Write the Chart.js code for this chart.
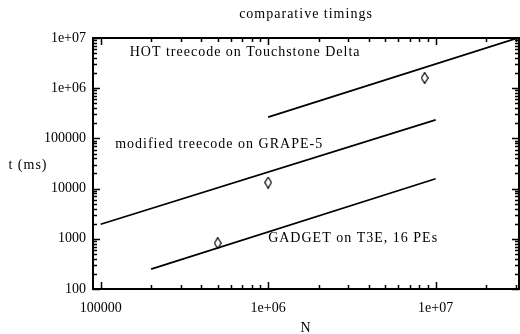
<!DOCTYPE html>
<html>
<head>
<meta charset="utf-8">
<script src="https://cdn.jsdelivr.net/npm/chart.js@4"></script>
<style>
  html, body { margin: 0; padding: 0; background: #fff; }
  #wrap { width: 520px; height: 334px; }
</style>
</head>
<body>
<div id="wrap"><canvas id="timings"></canvas></div>
<script>
// comparative timings, log-log

const hotN = [1e6, 3e7];
const hotT = [2.65e5, 9.7e6];

const grapeN = [1e5, 1e7];
const grapeT = [1950, 2.35e5];

const gadgetN = [2e5, 1e7];
const gadgetT = [250, 1.57e4];

const measuredN = [5e5, 1e6, 8.6e6];
const measuredT = [820, 1.32e4, 1.6e6];

const xTicks = [1e5, 2e5, 3e5, 4e5, 5e5, 6e5, 7e5, 8e5, 9e5,
    1e6, 2e6, 3e6, 4e6, 5e6, 6e6, 7e6, 8e6, 9e6, 1e7, 2e7, 3e7];
const xTickLabels = { 1e5: '100000', 1e6: '1e+06', 1e7: '1e+07' };

const yTicks = [100, 200, 300, 400, 500, 600, 700, 800, 900,
    1e3, 2e3, 3e3, 4e3, 5e3, 6e3, 7e3, 8e3, 9e3,
    1e4, 2e4, 3e4, 4e4, 5e4, 6e4, 7e4, 8e4, 9e4,
    1e5, 2e5, 3e5, 4e5, 5e5, 6e5, 7e5, 8e5, 9e5,
    1e6, 2e6, 3e6, 4e6, 5e6, 6e6, 7e6, 8e6, 9e6, 1e7];
const yTickLabels = { 100: '100', 1000: '1000', 10000: '10000', 100000: '100000', 1000000: '1e+06', 10000000: '1e+07' };

const chartTitle = 'comparative timings';
const xTitle = 'N';
const yTitle = 't (ms)';

// curve labels, anchored in data coordinates (left edge, vertical middle)
const curveLabels = ['HOT treecode on Touchstone Delta', 'modified treecode on GRAPE-5', 'GADGET on T3E, 16 PEs'];
const curveLabelN = [1.49e5, 1.22e5, 1e6];
const curveLabelT = [5.14e6, 7.5e4, 1.03e3];

const FONT = '14px "Liberation Serif"';

function pairs(xs, ys) {
    return xs.map((x, i) => ({ x: x, y: ys[i] }));
}

function isDecade(v) {
    const l = Math.log10(v);
    return Math.abs(l - Math.round(l)) < 1e-9;
}

// tall thin diamond for the measured points
const diamond = document.createElement('canvas');
diamond.width = 8;
diamond.height = 12;
(function () {
    const c = diamond.getContext('2d');
    c.strokeStyle = '#000';
    c.lineWidth = 1.2;
    c.beginPath();
    c.moveTo(4, 0.5);
    c.lineTo(7.3, 6);
    c.lineTo(4, 11.5);
    c.lineTo(0.7, 6);
    c.closePath();
    c.stroke();
})();

const frame = {
    id: 'frame',
    afterDraw(chart) {
        const ctx = chart.ctx;
        const a = chart.chartArea;
        const xs = chart.scales.x;
        const ys = chart.scales.y;
        ctx.save();
        ctx.strokeStyle = '#000';
        ctx.lineWidth = 2;
        ctx.strokeRect(a.left, a.top, a.right - a.left, a.bottom - a.top);

        ctx.lineWidth = 1.5;
        ctx.beginPath();
        xTicks.forEach(v => {
            const px = Math.round(xs.getPixelForValue(v)) + 0.5;
            const len = isDecade(v) ? 7 : 4;
            ctx.moveTo(px, a.bottom);
            ctx.lineTo(px, a.bottom - len);
            ctx.moveTo(px, a.top);
            ctx.lineTo(px, a.top + len);
        });
        yTicks.forEach(v => {
            const py = Math.round(ys.getPixelForValue(v)) + 0.5;
            const len = isDecade(v) ? 7 : 4;
            ctx.moveTo(a.left, py);
            ctx.lineTo(a.left + len, py);
            ctx.moveTo(a.right, py);
            ctx.lineTo(a.right - len, py);
        });
        ctx.stroke();

        ctx.fillStyle = '#000';
        ctx.font = FONT;
        ctx.letterSpacing = '1px';
        ctx.textBaseline = 'middle';
        ctx.textAlign = 'left';
        curveLabels.forEach((t, i) => {
            ctx.fillText(t, xs.getPixelForValue(curveLabelN[i]), ys.getPixelForValue(curveLabelT[i]));
        });

        ctx.textAlign = 'center';
        ctx.fillText(chartTitle, (a.left + a.right) / 2, 14);
        ctx.fillText(xTitle, (a.left + a.right) / 2, 328);
        ctx.fillText(yTitle, 28, 165);
        ctx.restore();
    }
};

const config = {
    type: 'scatter',
    data: {
        datasets: [
            { label: 'HOT', data: pairs(hotN, hotT), showLine: true },
            { label: 'GRAPE-5', data: pairs(grapeN, grapeT), showLine: true },
            { label: 'GADGET', data: pairs(gadgetN, gadgetT), showLine: true },
            {
                label: 'measured',
                data: pairs(measuredN, measuredT),
                showLine: false,
                pointStyle: diamond,
                pointRadius: 6,
            },
        ]
    },
    options: {
        responsive: true,
        maintainAspectRatio: false,
        animation: false,
        layout: { autoPadding: false, padding: { top: 38, right: 1, left: 0, bottom: 0 } },
        elements: {
            line: { borderColor: '#000', borderWidth: 1.8 },
            point: { radius: 0, borderColor: '#000', backgroundColor: 'rgba(0,0,0,0)' },
        },
        plugins: {
            legend: { display: false },
            tooltip: { enabled: false },
        },
        scales: {
            x: {
                type: 'logarithmic',
                min: 9e4,
                max: 3.146e7,
                afterBuildTicks: (scale) => { scale.ticks = xTicks.map(v => ({ value: v })); },
                afterFit: (scale) => {
                    scale.height = 45;
                    scale.paddingLeft = 0;
                    scale.paddingRight = 0;
                },
                grid: { display: false, drawTicks: false, tickLength: 0 },
                border: { display: false },
                ticks: {
                    autoSkip: false,
                    maxRotation: 0,
                    padding: 11,
                    color: '#000',
                    font: { family: 'Liberation Serif', size: 14 },
                    callback: (v) => xTickLabels[v] || '',
                },
            },
            y: {
                type: 'logarithmic',
                min: 100,
                max: 1e7,
                afterBuildTicks: (scale) => { scale.ticks = yTicks.map(v => ({ value: v })); },
                afterFit: (scale) => {
                    scale.width = 93;
                    scale.paddingTop = 0;
                    scale.paddingBottom = 0;
                },
                grid: { display: false, drawTicks: false, tickLength: 0 },
                border: { display: false },
                ticks: {
                    autoSkip: false,
                    padding: 7,
                    color: '#000',
                    font: { family: 'Liberation Serif', size: 14 },
                    callback: (v) => yTickLabels[v] || '',
                },
            },
        },
    },
    plugins: [frame],
};

const timingsChart = new Chart(
    document.getElementById('timings'),
    config
);
</script>
</body>
</html>
